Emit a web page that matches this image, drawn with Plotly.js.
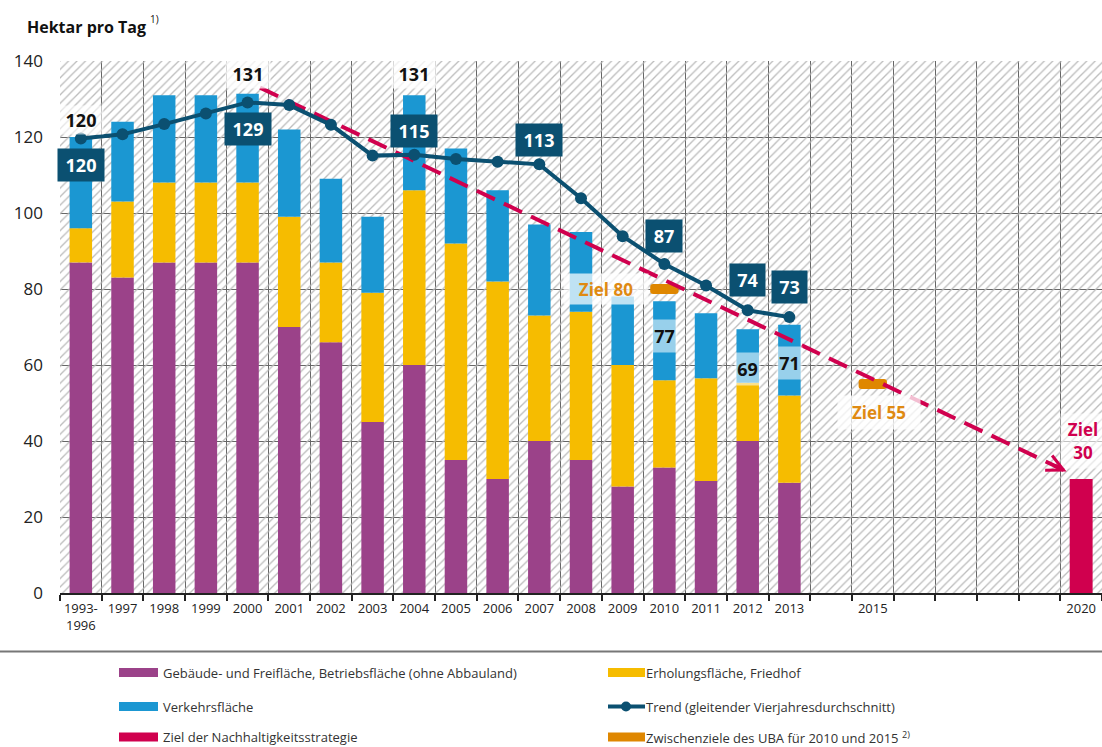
<!DOCTYPE html>
<html><head><meta charset="utf-8">
<script src="https://cdn.plot.ly/plotly-3.0.1.min.js"></script>
<style>html,body{margin:0;padding:0;background:#fff}#chart{width:1102px;height:747px}</style>
</head><body><div id="chart"></div>
<script>
// ---------- data ----------
const years = [1996,1997,1998,1999,2000,2001,2002,2003,2004,2005,2006,2007,2008,2009,2010,2011,2012,2013];
const gebaeude = [87,83,87,87,87,70,66,45,60,35,30,40,35,28,33,29.5,40,29];
const erholung = [9,20,21,21,21,29,21,34,46,57,52,33,39,32,23,27,15.3,23];
const verkehr  = [24,21,23,23,23.4,23,22,20,25,25,24,24,21,18,20.8,17.1,14.1,18.6];
const trend    = [119.6,120.7,123.4,126.2,129.1,128.4,123.2,115.1,115.3,114.2,113.5,112.8,103.9,93.9,86.6,80.9,74.4,72.6];
const zielYears = [2020];
const zielValues = [30];
const zwischenYears = [2010, 2015];
const zwischenValues = [80, 55];
const targetPathYears = [2000.3, 2019.65];
const targetPathValues = [133, 32];
const columns = [1996,1997,1998,1999,2000,2001,2002,2003,2004,2005,2006,2007,2008,2009,2010,2011,2012,2013,2014,2015,2016,2017,2018,2019,2020];
const tickYears  = [1996,1997,1998,1999,2000,2001,2002,2003,2004,2005,2006,2007,2008,2009,2010,2011,2012,2013,2015,2020];
const tickLabels = ['1993-<br>1996','1997','1998','1999','2000','2001','2002','2003','2004','2005','2006','2007','2008','2009','2010','2011','2012','2013','2015','2020'];

// ---------- styles ----------
const C = {purple:'#9b4289', yellow:'#f6bc00', blue:'#1b97d2', trend:'#0b5071', crimson:'#d0004e', orange:'#df8700', orangeText:'#df8a12', grid:'#666', text:'#222'};
const FONT = '"Open Sans", Roboto, sans-serif';
const L=60, T=61, W=1042, H=532;
const px = x => (x-L)/W, py = y => (T+H-y)/H;

const base2 = gebaeude.map((v,i)=>v+erholung[i]);
const totals = base2.map((v,i)=>v+verkehr[i]);
const idx = y => years.indexOf(y);

const traces = [
  {type:'bar', x:columns, y:columns.map(()=>140), width:1, hoverinfo:'skip', showlegend:false,
   marker:{color:'rgba(0,0,0,0)', line:{width:0}, pattern:{shape:'/', fgcolor:'#bcbcbc', size:6, solidity:0.22}}},
  {type:'bar', x:years, y:gebaeude, base:years.map(()=>0), width:0.54, marker:{color:C.purple, line:{width:0}}, name:'Gebäude'},
  {type:'bar', x:years, y:erholung, base:gebaeude, width:0.54, marker:{color:C.yellow, line:{width:0}}, name:'Erholung'},
  {type:'bar', x:years, y:verkehr, base:base2, width:0.54, marker:{color:C.blue, line:{width:0}}, name:'Verkehr'},
  {type:'bar', x:zielYears, y:zielValues, width:0.55, marker:{color:C.crimson, line:{width:0}}, name:'Ziel'},
  {type:'bar', x:zwischenYears, y:zwischenValues.map(()=>2.6), base:zwischenValues.map(v=>v-1.3), width:0.68,
   marker:{color:C.orange, line:{width:0}, cornerradius:3}, name:'Zwischenziele'},
  {type:'scatter', mode:'lines', x:targetPathYears, y:targetPathValues, line:{color:C.crimson, width:4, dash:'20px,10px'}, name:'Pfad'},
  {type:'scatter', mode:'lines+markers', x:years, y:trend, line:{color:C.trend, width:4}, marker:{color:C.trend, size:12}, name:'Trend'}
];

const ann = [];
function boxLabel(year, yv, text, w){
  ann.push({x:year, y:yv, xref:'x', yref:'y', text:'<b>'+text+'</b>', showarrow:false, bgcolor:C.trend,
    width:w, height:30, font:{family:FONT, size:18, color:'#fff'}, align:'center', valign:'middle'});
}
function plainLabel(year, yv, text, w, h, bg){
  ann.push({x:year, y:yv, xref:'x', yref:'y', text:'<b>'+text+'</b>', showarrow:false, bgcolor:bg,
    width:w, height:h, font:{family:FONT, size:18, color:'#111'}, align:'center', valign:'middle'});
}
const tl = y => String(Math.round(trend[idx(y)]));
const tt = y => String(Math.round(totals[idx(y)]));
boxLabel(1996, 112.6, tl(1996), 44);
boxLabel(2000, 122.1, tl(2000), 44);
boxLabel(2004, 121.6, tl(2004), 44);
boxLabel(2007, 119.2, tl(2007), 44);
boxLabel(2010, 93.9, tl(2010), 34);
boxLabel(2012, 82.4, tl(2012), 33);
boxLabel(2013, 80.5, tl(2013), 33);
plainLabel(1996, 124.5, tt(1996), 42, 26, 'rgba(255,255,255,0.6)');
plainLabel(2000, 136.5, tt(2000), 42, 26, 'rgba(255,255,255,0.75)');
plainLabel(2004, 136.5, tt(2004), 42, 26, 'rgba(255,255,255,0.75)');
plainLabel(2010, 67.6, tt(2010), 23, 30, 'rgba(255,255,255,0.55)');
plainLabel(2012, 58.9, tt(2012), 23, 30, 'rgba(255,255,255,0.55)');
plainLabel(2013, 60.6, tt(2013), 23, 30, 'rgba(255,255,255,0.55)');
ann.push({x:2008.6, y:79.9, xref:'x', yref:'y', text:'<b>Ziel '+zwischenValues[0]+'</b>', showarrow:false,
  bgcolor:'rgba(255,255,255,0.72)', width:82, height:28, font:{family:FONT, size:17, color:C.orangeText}});
ann.push({x:2015.15, y:47.5, xref:'x', yref:'y', text:'<b>Ziel '+zwischenValues[1]+'</b>', showarrow:false,
  bgcolor:'rgba(255,255,255,0.75)', width:80, height:31, font:{family:FONT, size:17, color:C.orangeText}});
ann.push({x:2020.05, y:39.9, xref:'x', yref:'y', text:'<b>Ziel<br>'+zielValues[0]+'</b>', showarrow:false,
  bgcolor:'rgba(255,255,255,0.6)', width:42, height:52, font:{family:FONT, size:17, color:C.crimson}});
// arrow head of target path
ann.push({x:targetPathYears[1], y:targetPathValues[1], xref:'x', yref:'y', text:' ', showarrow:true,
  ax:-13.5, ay:-6.4, arrowhead:5, arrowsize:0.8, arrowwidth:4, arrowcolor:C.crimson, font:{size:1}});
// title
ann.push({x:px(25), y:py(27), xref:'paper', yref:'paper', xanchor:'left', yanchor:'middle', showarrow:false,
  text:'<b>Hektar pro Tag</b>', font:{family:FONT, size:16, color:'#111'}});
ann.push({x:px(148), y:py(19), xref:'paper', yref:'paper', xanchor:'left', yanchor:'middle', showarrow:false,
  text:'1)', font:{family:FONT, size:10, color:'#111'}});

// legend (custom)
const shapes = [];
shapes.push({type:'line', xref:'paper', yref:'paper', x0:px(0), x1:px(1102), y0:py(651.5), y1:py(651.5), line:{color:'#777', width:2}});
const legendItems = [
  {col:0,row:0,color:C.purple,text:'Gebäude- und Freifläche, Betriebsfläche (ohne Abbauland)'},
  {col:1,row:0,color:C.yellow,text:'Erholungsfläche, Friedhof'},
  {col:0,row:1,color:C.blue,text:'Verkehrsfläche'},
  {col:1,row:1,color:null,text:'Trend (gleitender Vierjahresdurchschnitt)'},
  {col:0,row:2,color:C.crimson,text:'Ziel der Nachhaltigkeitsstrategie'},
  {col:1,row:2,color:C.orange,text:'Zwischenziele des UBA für 2010 und 2015 <sup>2)</sup>'}
];
const rowY = [672.5, 706.5, 737];
const colX = [[119,158,161],[608,645,644]];
legendItems.forEach(it=>{
  const [x0,x1,tx] = colX[it.col]; const y = rowY[it.row];
  if(it.color){
    shapes.push({type:'rect', xref:'paper', yref:'paper', x0:px(x0), x1:px(x1), y0:py(y+4.5), y1:py(y-4.5), fillcolor:it.color, line:{width:0}});
  } else {
    shapes.push({type:'line', xref:'paper', yref:'paper', x0:px(x0), x1:px(x1), y0:py(y), y1:py(y), line:{color:C.trend, width:4}});
    shapes.push({type:'circle', xref:'paper', yref:'paper', x0:px(621), x1:px(631), y0:py(y+5), y1:py(y-5), fillcolor:C.trend, line:{width:0}});
  }
  ann.push({x:px(tx), y:py(y), xref:'paper', yref:'paper', xanchor:'left', yanchor:'middle', showarrow:false,
    text:it.text, font:{family:FONT, size:13, color:'#333'}});
});

const layout = {
  width:1102, height:747, margin:{l:L, r:0, t:T, b:747-T-H, pad:0},
  paper_bgcolor:'#fff', plot_bgcolor:'#fff', barmode:'overlay', showlegend:false, hovermode:false,
  font:{family:FONT, color:C.text},
  xaxis:{range:[1995.5,2020.5], tickvals:columns.map(c=>c-0.5).concat([2020.5]), ticktext:columns.map(()=>'').concat(['']),
    showgrid:true, gridcolor:C.grid, gridwidth:1, zeroline:false, showline:true, linecolor:'#222', linewidth:2,
    ticks:'outside', ticklen:6, tickwidth:2, tickcolor:'#222', fixedrange:true},
  xaxis2:{overlaying:'x', matches:'x', range:[1995.5,2020.5], side:'bottom', anchor:'y', tickvals:tickYears, ticktext:tickLabels,
    showgrid:false, zeroline:false, showline:false, ticks:'', tickfont:{family:FONT, size:13, color:C.text}, ticklabelstandoff:6},
  yaxis:{range:[0,140], tickvals:[0,20,40,60,80,100,120,140], showgrid:true, gridcolor:C.grid, gridwidth:1, zeroline:false,
    ticks:'', tickfont:{family:FONT, size:17, color:C.text}, ticklabelstandoff:16, fixedrange:true},
  annotations:ann, shapes:shapes
};
// invisible trace so that the label axis is drawn
traces.push({type:'scatter', x:[1996], y:[0], xaxis:'x2', mode:'markers', marker:{opacity:0}, hoverinfo:'skip', showlegend:false});
Plotly.newPlot('chart', traces, layout, {displayModeBar:false, staticPlot:true});
</script></body></html>
